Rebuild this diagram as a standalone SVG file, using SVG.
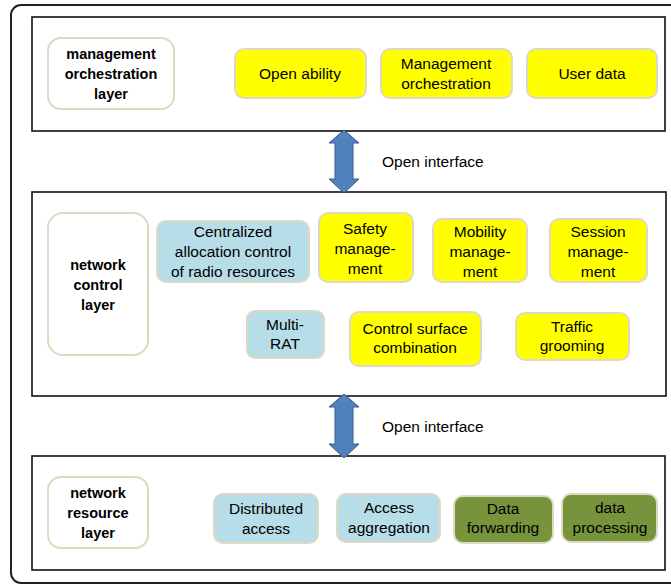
<svg xmlns="http://www.w3.org/2000/svg" width="671" height="584" viewBox="0 0 671 584">
<style>
.layer{fill:#fff;stroke:#111;stroke-width:1.6}
.lbl{fill:#fff;stroke:#ddd9c3;stroke-width:2}
.y{fill:#ffff00;stroke:#ddd9c3;stroke-width:2}
.b{fill:#b7dde8;stroke:#ddd9c3;stroke-width:2}
.g{fill:#77933c;stroke:#ddd9c3;stroke-width:2}
text{font-family:"Liberation Sans",Arial,sans-serif;font-size:15.5px;fill:#000;text-anchor:middle}
.bt{font-weight:bold;font-size:14.5px}
.arr{fill:#4f81bd;stroke:#385d8a;stroke-width:1}
.it{text-anchor:start}
</style>
<rect x="11" y="5" width="680" height="578" rx="10" fill="#fff" stroke="#222" stroke-width="2"/>
<g id="layers">
<rect class="layer" x="32" y="17" width="633" height="114"/>
<rect class="layer" x="32" y="192" width="634" height="204"/>
<rect class="layer" x="32" y="456" width="633" height="114"/>
</g>
<g id="connectors">
<path class="arr" d="M344 130 L359 143 L353 143 L353 179 L359 179 L344 193 L329 179 L335 179 L335 143 L329 143 Z"/>
<path class="arr" d="M344 394 L359 407 L353 407 L353 444 L359 444 L344 458 L329 444 L335 444 L335 407 L329 407 Z"/>
<text class="it" x="382" y="167">Open interface</text>
<text class="it" x="382" y="432">Open interface</text>
</g>
<g id="mgmt-layer"><rect class="lbl" x="48" y="38" width="126" height="71" rx="13"/>
<text class="bt" x="111" y="59">management</text><text class="bt" x="111" y="79">orchestration</text><text class="bt" x="111" y="99">layer</text></g>
<g id="open-ability"><rect class="y" x="235" y="49" width="131" height="49" rx="9"/><text x="300" y="79">Open ability</text></g>
<g id="mgmt-orch"><rect class="y" x="381" y="49" width="131" height="49" rx="9"/><text x="446" y="69">Management</text><text x="446" y="89">orchestration</text></g>
<g id="user-data"><rect class="y" x="527" y="49" width="130" height="49" rx="9"/><text x="592" y="79">User data</text></g>

<g id="ctrl-layer"><rect class="lbl" x="48" y="213" width="100" height="142" rx="15"/>
<text class="bt" x="98" y="270">network</text><text class="bt" x="98" y="290">control</text><text class="bt" x="98" y="310">layer</text></g>
<g id="centralized"><rect class="b" x="157" y="221" width="152" height="61" rx="9"/>
<text x="233" y="237">Centralized</text><text x="233" y="257">allocation control</text><text x="233" y="277">of radio resources</text></g>
<g id="safety"><rect class="y" x="319" y="213" width="94" height="69" rx="9"/>
<text x="365" y="234">Safety</text><text x="365" y="254">manage-</text><text x="365" y="274">ment</text></g>
<g id="mobility"><rect class="y" x="433" y="219" width="94" height="63" rx="9"/>
<text x="480" y="237">Mobility</text><text x="480" y="257">manage-</text><text x="480" y="277">ment</text></g>
<g id="session"><rect class="y" x="550" y="219" width="97" height="63" rx="9"/>
<text x="598" y="237">Session</text><text x="598" y="257">manage-</text><text x="598" y="277">ment</text></g>
<g id="multi-rat"><rect class="b" x="247" y="311" width="77" height="47" rx="8"/>
<text x="285" y="330">Multi-</text><text x="285" y="349">RAT</text></g>
<g id="control-surface"><rect class="y" x="350" y="312" width="131" height="54" rx="9"/>
<text x="415" y="334">Control surface</text><text x="415" y="353">combination</text></g>
<g id="traffic"><rect class="y" x="516" y="313" width="113" height="47" rx="9"/>
<text x="572" y="332">Traffic</text><text x="572" y="351">grooming</text></g>

<g id="res-layer"><rect class="lbl" x="48" y="477" width="100" height="71" rx="13"/>
<text class="bt" x="98" y="498">network</text><text class="bt" x="98" y="518">resource</text><text class="bt" x="98" y="538">layer</text></g>
<g id="distributed"><rect class="b" x="214" y="494" width="104" height="49" rx="9"/>
<text x="266" y="514">Distributed</text><text x="266" y="534">access</text></g>
<g id="access-agg"><rect class="b" x="337" y="494" width="103" height="48" rx="9"/>
<text x="389" y="513">Access</text><text x="389" y="533">aggregation</text></g>
<g id="data-fwd"><rect class="g" x="454" y="496" width="99" height="47" rx="9"/>
<text x="503" y="514">Data</text><text x="503" y="533">forwarding</text></g>
<g id="data-proc"><rect class="g" x="562" y="494" width="95" height="48" rx="9"/>
<text x="610" y="513">data</text><text x="610" y="533">processing</text></g>
</svg>
